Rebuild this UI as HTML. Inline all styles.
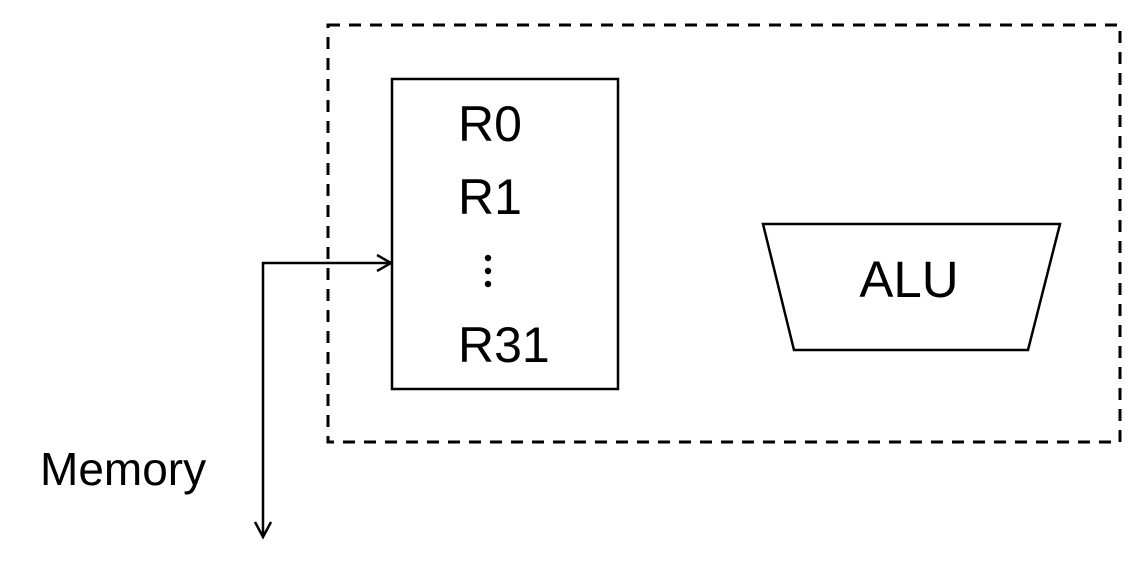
<!DOCTYPE html>
<html><head><meta charset="utf-8"><style>
html,body{margin:0;padding:0;background:#fff;}
svg{display:block;}
text{font-family:"Liberation Sans",Arial,sans-serif;fill:#000;}
</style></head><body>
<svg width="1142" height="568" viewBox="0 0 1142 568" xmlns="http://www.w3.org/2000/svg">
<rect x="328" y="25" width="792" height="417" fill="none" stroke="#000" stroke-width="3" stroke-dasharray="12,9"/>
<rect x="392" y="79" width="226" height="310" fill="none" stroke="#000" stroke-width="2.5"/>
<text x="458" y="141" font-size="50">R0</text>
<text x="458" y="214" font-size="50">R1</text>
<circle cx="488" cy="258" r="3.2"/>
<circle cx="488" cy="271" r="3.2"/>
<circle cx="488" cy="284" r="3.2"/>
<text x="458" y="362" font-size="50">R31</text>
<polygon points="763,224 1060,224 1028,350 794,350" fill="none" stroke="#000" stroke-width="2.5"/>
<text x="909" y="297" font-size="51" text-anchor="middle">ALU</text>
<path d="M263,537 L263,263 L391,263" fill="none" stroke="#000" stroke-width="2.5"/>
<path d="M377,255 L391,263 L377,271" fill="none" stroke="#000" stroke-width="2.5"/>
<path d="M255,522 L263,537 L271,522" fill="none" stroke="#000" stroke-width="2.5"/>
<text x="40" y="485" font-size="46">Memory</text>
</svg>
</body></html>
